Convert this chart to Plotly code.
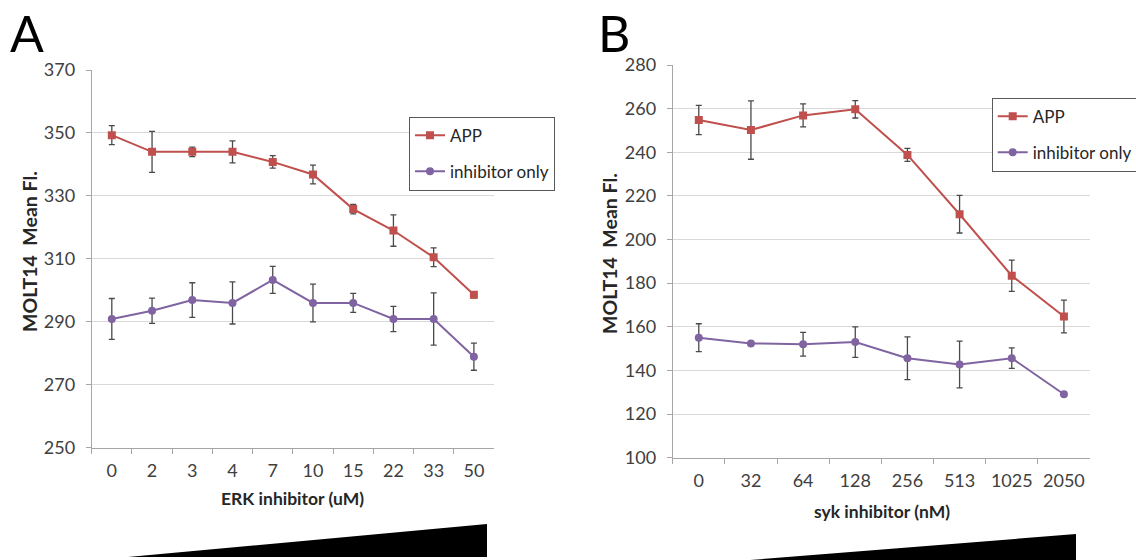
import plotly.graph_objects as go

# ---- Panel A: ERK inhibitor titration ----
erk_doses = ["0", "2", "3", "4", "7", "10", "15", "22", "33", "50"]
erk_app = [349.3, 344.0, 344.0, 344.0, 340.8, 336.8, 325.8, 319.0, 310.5, 298.6]
erk_app_err = [3.0, 6.5, 1.5, 3.5, 2.0, 3.0, 1.5, 5.0, 3.0, 1.0]
erk_inh = [290.9, 293.5, 296.9, 296.0, 303.3, 296.0, 296.0, 290.9, 290.9, 278.9]
erk_inh_err = [6.5, 4.0, 5.5, 6.7, 4.3, 6.0, 3.0, 4.0, 8.3, 4.3]
erk_yticks = [250, 270, 290, 310, 330, 350, 370]

# ---- Panel B: syk inhibitor titration ----
syk_doses = ["0", "32", "64", "128", "256", "513", "1025", "2050"]
syk_app = [254.8, 250.2, 256.9, 259.7, 238.8, 211.6, 183.4, 164.7]
syk_app_err = [6.7, 13.4, 5.3, 4.0, 3.0, 8.6, 7.2, 7.5]
syk_inh = [155.0, 152.4, 152.0, 153.0, 145.6, 142.7, 145.6, 129.1]
syk_inh_err = [6.4, 0.4, 5.4, 7.0, 9.8, 10.7, 4.7, 1.0]
syk_yticks = [100, 120, 140, 160, 180, 200, 220, 240, 260, 280]

series_names = ["APP", "inhibitor only"]

RED = "#C0504D"
PURPLE = "#8064A2"
ERR = "#4a4a4a"
FONT = "Lato"
W, H = 1136, 560


def px(x):
    return x / W


def py(y):
    return 1 - y / H


fig = go.Figure()


def add_series(xs, ys, errs, name, color, symbol, xa, ya, legend):
    fig.add_trace(go.Scatter(
        x=xs, y=ys, name=name, mode="lines+markers",
        xaxis=xa, yaxis=ya, legend=legend, legendgroup=legend + name,
        line=dict(color=color, width=2),
        marker=dict(color=color, symbol=symbol, size=8),
        error_y=dict(type="data", array=errs, visible=True,
                     color=ERR, thickness=1.3, width=3),
    ))


add_series(erk_doses, erk_app, erk_app_err, series_names[0], RED, "square", "x", "y", "legend")
add_series(erk_doses, erk_inh, erk_inh_err, series_names[1], PURPLE, "circle", "x", "y", "legend")
add_series(syk_doses, syk_app, syk_app_err, series_names[0], RED, "square", "x2", "y2", "legend2")
add_series(syk_doses, syk_inh, syk_inh_err, series_names[1], PURPLE, "circle", "x2", "y2", "legend2")

axis_common = dict(
    showline=True, linecolor="#a6a6a6", linewidth=1,
    ticks="outside", ticklen=5, tickcolor="#a6a6a6",
    tickfont=dict(family=FONT, size=18, color="#404040"),
    ticklabelstandoff=7, fixedrange=True, zeroline=False, automargin=False,
)

legend_common = dict(
    bgcolor="white", bordercolor="#595959", borderwidth=1,
    font=dict(family=FONT, size=17, color="#262626"),
    xanchor="left", yanchor="top", traceorder="grouped",
    tracegroupgap=11, itemwidth=30,
)

fig.update_layout(
    width=W, height=H,
    margin=dict(l=0, r=0, t=0, b=0, autoexpand=False),
    paper_bgcolor="white", plot_bgcolor="white",
    showlegend=True,
    xaxis=dict(axis_common, type="category", domain=[px(91.7), px(494)],
               range=[-0.5, len(erk_doses) - 0.5], tickson="boundaries",
               showgrid=False, anchor="y"),
    yaxis=dict(axis_common, domain=[py(447.7), py(70)], range=[250, 370],
               tickvals=erk_yticks, showgrid=True, gridcolor="#d9d9d9",
               gridwidth=1, anchor="x"),
    xaxis2=dict(axis_common, type="category", domain=[px(672.7), px(1090)],
                range=[-0.5, len(syk_doses) - 0.5], tickson="boundaries",
                showgrid=False, anchor="y2"),
    yaxis2=dict(axis_common, domain=[py(457.7), py(65)], range=[100, 280],
                tickvals=syk_yticks, showgrid=True, gridcolor="#d9d9d9",
                gridwidth=1, anchor="x2"),
    legend=dict(legend_common, x=px(409), y=py(116.7)),
    legend2=dict(legend_common, x=px(991.7), y=py(97.7)),
)

ytitle_font = dict(family=FONT, size=19.5, color="#262626")
xtitle_font = dict(family=FONT, size=17.5, color="#262626")
ytitle = "<b>MOLT14&nbsp;&nbsp;Mean Fl.</b>"
annotations = [
    dict(text=ytitle, x=px(30), y=py(252), textangle=-90, font=ytitle_font),
    dict(text="<b>ERK inhibitor (uM)</b>", x=px(292), y=py(498), font=xtitle_font),
    dict(text=ytitle, x=px(610), y=py(254), textangle=-90, font=ytitle_font),
    dict(text="<b>syk inhibitor (nM)</b>", x=px(881.5), y=py(511), font=xtitle_font),
]
for a in annotations:
    fig.add_annotation(xref="paper", yref="paper", showarrow=False,
                       xanchor="center", yanchor="middle", **a)

# panel letters
for letter, cx in (("A", 27), ("B", 614)):
    fig.add_annotation(text=letter, xref="paper", yref="paper", x=px(cx), y=py(33),
                       xanchor="center", yanchor="middle", showarrow=False,
                       font=dict(family=FONT, size=50, color="black"))

# concentration wedges beneath each x axis
fig.add_shape(type="path", xref="paper", yref="paper",
              path=f"M {px(128)} {py(557)} L {px(487)} {py(524)} L {px(487)} {py(557)} Z",
              fillcolor="black", line=dict(width=0))
fig.add_shape(type="path", xref="paper", yref="paper",
              path=f"M {px(700)} {py(564)} L {px(1076)} {py(534)} L {px(1076)} {py(564)} Z",
              fillcolor="black", line=dict(width=0))

fig.write_html("out.html")
